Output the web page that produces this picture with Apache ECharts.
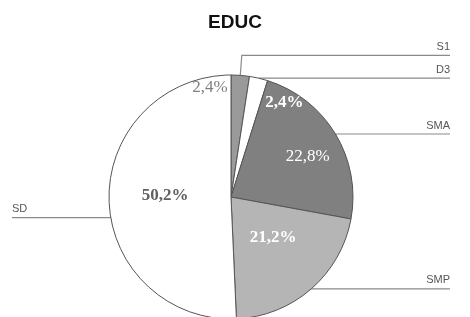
<!DOCTYPE html>
<html><head><meta charset="utf-8">
<script src="https://cdn.jsdelivr.net/npm/echarts@6/dist/echarts.min.js"></script>
<style>html,body{margin:0;padding:0;background:#fff}#c{width:470px;height:317px}</style>
</head><body><div id="c"></div>
<script>
var titleText = 'EDUC';
var categories = ['S1', 'D3', 'SMA', 'SMP', 'SD'];
var values = [2.4, 2.4, 22.8, 21.2, 50.2];

// styles (kept apart from data)
var fills = { S1: '#9a9a9a', D3: '#ffffff', SMA: '#808080', SMP: '#b5b5b5', SD: '#ffffff' };
var pctStyle = {
  S1:  { color: '#808080', fontWeight: 'normal', dx: -26, dy: -46 },
  D3:  { color: '#ffffff', fontWeight: 'bold',   dx: 39,  dy: -32 },
  SMA: { color: '#ffffff', fontWeight: 'normal', dx: 22,  dy: -7 },
  SMP: { color: '#ffffff', fontWeight: 'bold',   dx: 0,   dy: -8 },
  SD:  { color: '#606060', fontWeight: 'bold',   dx: -2,  dy: -3 }
};
var nameLine = { S1: { length: 20, shift: 0 }, D3: { length: 0, shift: 0 }, SMA: { length: 0, shift: 0 },
                 SMP: { length: 0, shift: 0 }, SD: { length: 0, shift: 18 } };
var CX = 231, CY = 197, R = 122, RIGHT_X = 450, LEFT_X = 12;

function fmt(v) { return String(v).replace('.', ',') + '%'; }

var pctData = categories.map(function (c, i) {
  var s = pctStyle[c];
  return { name: c, value: values[i], itemStyle: { color: fills[c] },
           label: { color: s.color, fontWeight: s.fontWeight } };
});
var nameData = categories.map(function (c, i) {
  return { name: c, value: values[i], labelLine: { length: nameLine[c].length } };
});

var chart = echarts.init(document.getElementById('c'), null, { renderer: 'canvas' });
chart.setOption({
  animation: false,
  backgroundColor: '#ffffff',
  title: { text: titleText, left: 'center', top: 8,
           textStyle: { fontFamily: 'Liberation Sans', fontSize: 19, fontWeight: 'bold', color: '#111' } },
  series: [
    {
      type: 'pie', center: [CX, CY], radius: R, startAngle: 90, clockwise: true,
      avoidLabelOverlap: false,
      itemStyle: { borderColor: '#555555', borderWidth: 1 },
      label: { show: true, position: 'inside', fontFamily: 'Liberation Serif', fontSize: 17,
               formatter: function (p) { return fmt(p.value); } },
      labelLayout: function (p) {
        var s = pctStyle[categories[p.dataIndex]];
        return { dx: s.dx, dy: s.dy };
      },
      emphasis: { disabled: true },
      data: pctData
    },
    {
      type: 'pie', center: [CX, CY], radius: R, startAngle: 90, clockwise: true,
      avoidLabelOverlap: false, silent: true,
      itemStyle: { color: 'rgba(0,0,0,0)', borderWidth: 0 },
      label: { show: true, position: 'outside', formatter: '{b}', fontFamily: 'Liberation Sans',
               fontSize: 11, color: '#555555' },
      labelLine: { show: true, length: 0, length2: 10, smooth: false,
                   lineStyle: { color: '#8a8a8a', width: 1.2 } },
      labelLayout: function (p) {
        var pts = p.labelLinePoints;
        if (!pts) return {};
        var name = categories[p.dataIndex];
        var p0 = pts[0], p1 = pts[1];
        var isLeft = pts[2][0] < pts[0][0];
        var y = p1[1];
        var sh = nameLine[name].shift;
        if (sh) {
          y += sh;
          var dyc = y - CY;
          var x0 = CX + (isLeft ? -1 : 1) * Math.sqrt(R * R - dyc * dyc);
          p0 = [x0, y]; p1 = [x0, y];
        }
        var xe = isLeft ? LEFT_X : RIGHT_X;
        return { x: xe, y: y - 3, align: isLeft ? 'left' : 'right', verticalAlign: 'bottom',
                 labelLinePoints: [p0, p1, [xe, y]] };
      },
      emphasis: { disabled: true },
      data: nameData
    }
  ]
});
</script></body></html>
